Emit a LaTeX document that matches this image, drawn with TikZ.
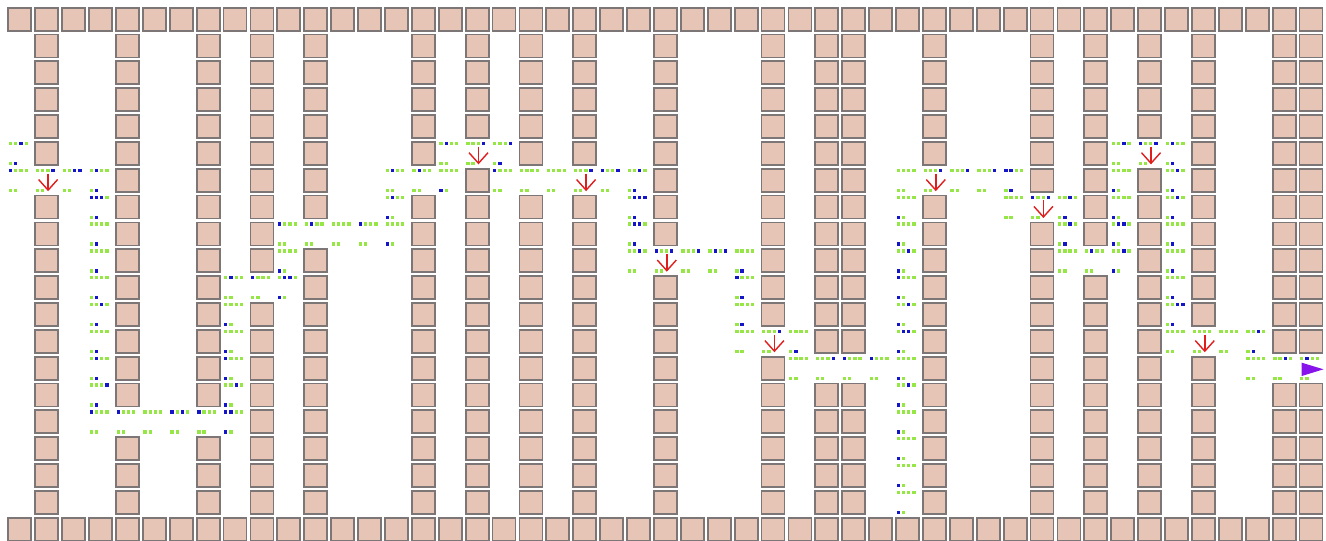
\documentclass[tikz,border=0pt]{standalone}
\definecolor{tilef}{RGB}{230,197,182}
\definecolor{tileb}{RGB}{125,118,118}
\definecolor{dg}{RGB}{150,230,70}
\definecolor{db}{RGB}{20,20,200}
\definecolor{ared}{RGB}{225,30,30}
\definecolor{trip}{RGB}{135,20,235}
\def\SX{26.9}
\def\SY{26.84}
\newcommand\mytile[2]{\filldraw[tilestyle] ({7.3+#1*\SX+1},{6.7+#2*\SY+1}) rectangle ++(23,23);}
\newcommand\cellD[4]{%
  \foreach \k [count=\i from 0] in {#3} {\fill[fill=d\k] ({7.3+#1*\SX+1.65+5.2*\i},{6.7+#2*\SY+0.95}) rectangle ++(3.3,3.3);}%
  \foreach \k [count=\i from 0] in {#4} {\fill[fill=d\k] ({7.3+#1*\SX+1.65+5.2*\i},{6.7+#2*\SY+20.95}) rectangle ++(3.3,3.3);}%
}
\newcommand\redarr[2]{%
  \draw[arrstyle] ({7.3+#1*\SX+13.9},{6.7+#2*\SY+5.8}) -- ({7.3+#1*\SX+13.9},{6.7+#2*\SY+22.4});
  \draw[arrstyle] ({7.3+#1*\SX+4.4},{6.7+#2*\SY+11.8}) -- ({7.3+#1*\SX+13.9},{6.7+#2*\SY+22.4}) -- ({7.3+#1*\SX+23.4},{6.7+#2*\SY+11.8});
}
\begin{document}
\begin{tikzpicture}[x=1pt,y=-1pt,
  tilestyle/.style={fill=tilef,draw=tileb,line width=1.8pt},
  arrstyle/.style={draw=ared,line width=1.4pt,line join=miter}]
\useasboundingbox (0,0) rectangle (1326,541);
\fill[white] (0,0) rectangle (1326,541);
% tiles
\foreach \c in {0,...,48} {\mytile{\c}{0}\mytile{\c}{19}}
\foreach \c/\g in {1/6,4/15,7/15,9/10,11/8,15/6,17/5,19/6,21/6,24/9,28/12,30/13,31/13,34/6,38/7,40/9,42/5,44/12,47/13,48/13}
  {\foreach \r in {1,...,18} {\ifnum\r=\g\relax\else\mytile{\c}{\r}\fi}}
% dots
\cellD{0}{5}{g,g,b,g}{g,b}
\cellD{0}{6}{b,g,g,g}{g,g}
\cellD{1}{6}{g,g,g,b}{g,g}
\cellD{2}{6}{g,g,b,b}{g,g}
\cellD{3}{6}{g,b,g,g}{g,b}
\cellD{3}{7}{b,b,b,g}{g,b}
\cellD{3}{8}{g,g,g,g}{g,b}
\cellD{3}{9}{g,g,g,g}{g,b}
\cellD{3}{10}{g,g,g,g}{g,b}
\cellD{3}{11}{g,g,b,g}{g,b}
\cellD{3}{12}{g,g,g,g}{g,b}
\cellD{3}{13}{g,b,g,g}{g,b}
\cellD{3}{14}{g,g,g,b}{g,b}
\cellD{3}{15}{b,g,g,g}{g,g}
\cellD{4}{15}{b,g,g,g}{g,g}
\cellD{5}{15}{g,g,g,g}{g,g}
\cellD{6}{15}{b,g,b,g}{g,g}
\cellD{7}{15}{b,g,g,g}{g,g}
\cellD{8}{15}{b,b,g,g}{b,g}
\cellD{8}{14}{g,g,b,g}{b,g}
\cellD{8}{13}{b,g,g,g}{b,g}
\cellD{8}{12}{g,g,g,g}{b,g}
\cellD{8}{11}{g,g,g,g}{b,g}
\cellD{8}{10}{g,b,g,g}{g,g}
\cellD{9}{10}{b,g,g,g}{g,g}
\cellD{10}{10}{g,b,b,g}{b,g}
\cellD{10}{9}{g,g,g,g}{b,g}
\cellD{10}{8}{b,g,g,g}{g,g}
\cellD{11}{8}{g,b,g,g}{g,g}
\cellD{12}{8}{g,g,g,g}{g,g}
\cellD{13}{8}{b,g,g,g}{g,g}
\cellD{14}{8}{g,g,g,g}{b,g}
\cellD{14}{7}{g,b,g,g}{b,g}
\cellD{14}{6}{g,b,g,g}{g,g}
\cellD{15}{6}{g,b,g,g}{g,g}
\cellD{16}{6}{g,g,g,g}{b,g}
\cellD{16}{5}{g,b,g,g}{g,g}
\cellD{17}{5}{g,g,g,b}{g,g}
\cellD{18}{5}{g,g,g,b}{g,b}
\cellD{18}{6}{b,g,g,g}{g,g}
\cellD{19}{6}{g,g,g,g}{g,g}
\cellD{20}{6}{g,g,g,g}{g,g}
\cellD{21}{6}{g,g,g,b}{g,g}
\cellD{22}{6}{b,g,g,b}{g,g}
\cellD{23}{6}{g,g,b,g}{g,b}
\cellD{23}{7}{g,b,b,b}{g,b}
\cellD{23}{8}{g,b,b,g}{g,b}
\cellD{23}{9}{g,g,b,g}{g,g}
\cellD{24}{9}{b,g,g,b}{g,g}
\cellD{25}{9}{g,g,g,b}{g,g}
\cellD{26}{9}{g,b,g,b}{g,g}
\cellD{27}{9}{g,g,g,g}{g,b}
\cellD{27}{10}{b,g,g,g}{g,b}
\cellD{27}{11}{g,g,g,g}{g,b}
\cellD{27}{12}{g,g,g,g}{g,g}
\cellD{28}{12}{g,g,g,b}{g,g}
\cellD{29}{12}{g,g,g,g}{g,b}
\cellD{29}{13}{g,g,g,g}{g,g}
\cellD{30}{13}{g,g,g,b}{g,g}
\cellD{31}{13}{b,g,g,g}{g,g}
\cellD{32}{13}{b,g,g,g}{g,g}
\cellD{33}{6}{g,g,g,g}{g,g}
\cellD{33}{7}{g,g,g,g}{b,g}
\cellD{33}{8}{g,g,g,g}{b,g}
\cellD{33}{9}{g,g,b,g}{b,g}
\cellD{33}{10}{b,g,g,g}{b,g}
\cellD{33}{11}{g,g,b,g}{b,g}
\cellD{33}{12}{g,b,b,g}{b,g}
\cellD{33}{13}{g,g,g,g}{b,g}
\cellD{33}{14}{g,g,b,g}{b,g}
\cellD{33}{15}{g,g,g,g}{b,g}
\cellD{33}{16}{g,g,g,g}{b,g}
\cellD{33}{17}{g,g,g,g}{b,g}
\cellD{33}{18}{g,g,g,g}{b,g}
\cellD{34}{6}{g,g,g,b}{g,g}
\cellD{35}{6}{g,g,g,b}{g,g}
\cellD{36}{6}{g,g,g,b}{g,g}
\cellD{37}{6}{b,b,g,g}{g,b}
\cellD{37}{7}{g,g,g,g}{g,g}
\cellD{38}{7}{b,g,g,b}{g,g}
\cellD{39}{7}{g,g,b,g}{g,b}
\cellD{39}{8}{g,g,b,g}{g,b}
\cellD{39}{9}{g,g,g,g}{g,g}
\cellD{40}{9}{g,b,g,g}{g,g}
\cellD{41}{9}{g,g,b,g}{b,g}
\cellD{41}{8}{g,b,b,g}{b,g}
\cellD{41}{7}{g,g,g,g}{b,g}
\cellD{41}{6}{g,g,g,g}{b,g}
\cellD{41}{5}{g,g,b,g}{g,g}
\cellD{42}{5}{b,g,g,b}{g,g}
\cellD{43}{5}{g,b,g,g}{g,b}
\cellD{43}{6}{g,g,b,g}{g,b}
\cellD{43}{7}{g,g,b,g}{g,b}
\cellD{43}{8}{g,g,g,g}{g,b}
\cellD{43}{9}{g,g,g,g}{g,b}
\cellD{43}{10}{g,g,g,g}{g,b}
\cellD{43}{11}{g,g,b,b}{g,b}
\cellD{43}{12}{g,g,g,g}{g,g}
\cellD{44}{12}{g,g,g,g}{g,g}
\cellD{45}{12}{g,g,g,g}{g,g}
\cellD{46}{12}{g,g,b,g}{g,b}
\cellD{46}{13}{g,g,g,g}{g,g}
\cellD{47}{13}{g,g,b,g}{g,g}
\cellD{48}{13}{g,b,g,g}{g,g}
% arrows
\foreach \c/\r in {1/6,17/5,21/6,24/9,28/12,34/6,38/7,42/5,44/12} {\redarr{\c}{\r}}
% goal triangle
\fill[trip] (1301.7,362.7) -- (1323.5,369.3) -- (1301.7,376) -- cycle;
\end{tikzpicture}
\end{document}
